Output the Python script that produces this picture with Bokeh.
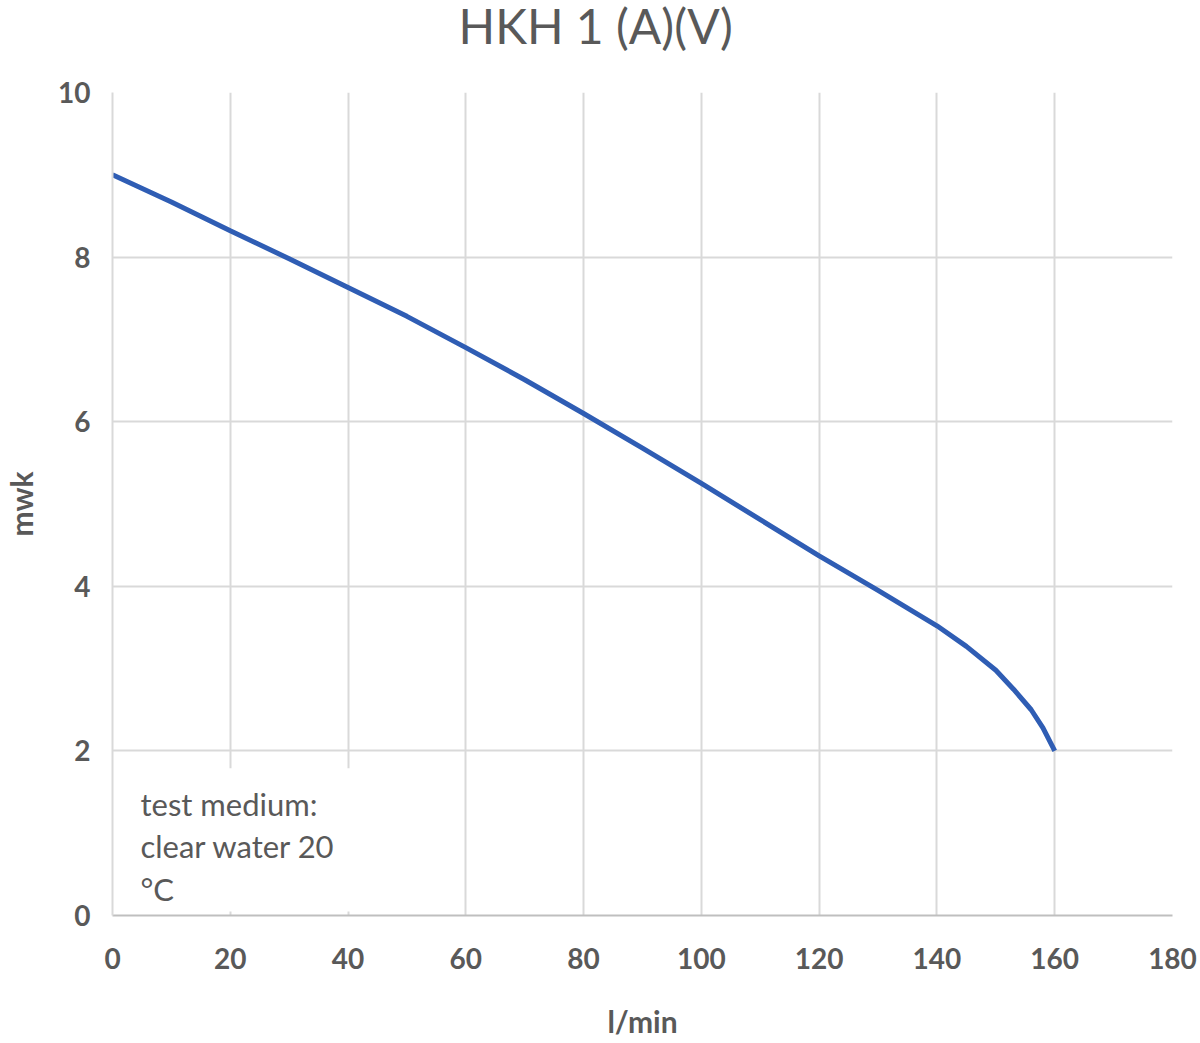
from bokeh.plotting import figure
from bokeh.layouts import column
from bokeh.models import Range1d, FixedTicker, BoxAnnotation, Label
from bokeh.embed import file_html
from bokeh.resources import INLINE

# data
flow = [0, 10, 20, 30, 40, 50, 60, 70, 80, 90, 100, 110, 120, 130, 140, 145, 150, 153, 156, 158, 160]
head = [9.0, 8.67, 8.32, 7.98, 7.63, 7.28, 6.90, 6.51, 6.10, 5.68, 5.25, 4.81, 4.37, 3.95, 3.52, 3.27, 2.98, 2.75, 2.50, 2.28, 2.0]
x_ticks = [0, 20, 40, 60, 80, 100, 120, 140, 160, 180]
y_ticks = [0, 2, 4, 6, 8, 10]
title_text = "HKH 1 (A)(V)"
note_text = "test medium:\nclear water 20\n°C"

FONT = "Lato"
GREY = "#595959"
GRID = "#d9d9d9"

# --- title strip (its own small figure so the title is not clipped) ---
# its frame is aligned with the main frame (page x 112..1172), so the range
# 0..1200 spans 1060 px; x=547 puts the title centre at page x ~595
TITLE_H = 60
t = figure(width=1200, height=TITLE_H, output_backend="svg", toolbar_location=None,
           x_range=Range1d(0, 1200), y_range=Range1d(0, TITLE_H),
           x_axis_location=None, y_axis_location=None,
           min_border_left=0, min_border_right=0, min_border_top=0, min_border_bottom=0)
t.grid.visible = False
t.outline_line_color = None
t.background_fill_color = "white"
t.border_fill_color = "white"
t.add_layout(Label(x=547, y=TITLE_H - 25, text=title_text, text_font=FONT,
                   text_font_size="48px", text_color=GREY,
                   text_align="center", text_baseline="middle"))

# --- main chart ---
p = figure(width=1200, height=1043 - TITLE_H, output_backend="svg", toolbar_location=None,
           x_range=Range1d(0, 180), y_range=Range1d(0, 10),
           min_border_left=112, min_border_right=28, min_border_top=92 - TITLE_H,
           min_border_bottom=128)

p.outline_line_color = None
p.background_fill_color = "white"
p.border_fill_color = "white"

p.xaxis.ticker = FixedTicker(ticks=x_ticks)
p.yaxis.ticker = FixedTicker(ticks=y_ticks)
for ax in (p.xaxis, p.yaxis):
    ax.major_tick_line_color = None
    ax.minor_tick_line_color = None
    ax.major_tick_out = 0
    ax.major_tick_in = 0
    ax.major_label_text_font = FONT
    ax.major_label_text_font_size = "28px"
    ax.major_label_text_font_style = "bold"
    ax.major_label_text_color = GREY
    ax.axis_label_text_font = FONT
    ax.axis_label_text_font_size = "30px"
    ax.axis_label_text_font_style = "bold"
    ax.axis_label_text_color = GREY
p.xaxis.axis_label = "l/min"
p.yaxis.axis_label = "mwk"
p.yaxis.axis_label_text_line_height = 1.0
p.xaxis.axis_line_color = "#bfbfbf"
p.xaxis.axis_line_width = 2
p.yaxis.axis_line_color = GRID
p.yaxis.axis_line_width = 2
p.xaxis.major_label_standoff = 32
p.xaxis.axis_label_standoff = 31
p.yaxis.major_label_standoff = 22
p.yaxis.axis_label_standoff = 16

p.xgrid.ticker = FixedTicker(ticks=x_ticks)
p.ygrid.ticker = FixedTicker(ticks=y_ticks)
p.grid.grid_line_color = GRID
p.grid.grid_line_width = 2

p.line(flow, head, line_color="#2F5DB4", line_width=5)

box = BoxAnnotation(left=0.3, right=40.4, bottom=0.05, top=1.79,
                    fill_color="white", fill_alpha=1.0, line_alpha=0)
p.add_layout(box)

note = Label(x=4.75, y=1.59, text=note_text, text_font=FONT, text_font_size="31px",
             text_color=GREY, text_baseline="top", text_align="left", text_line_height=1.12)
p.add_layout(note)

layout = column(t, p, spacing=0)
open("out.html", "w").write(file_html(layout, INLINE))
